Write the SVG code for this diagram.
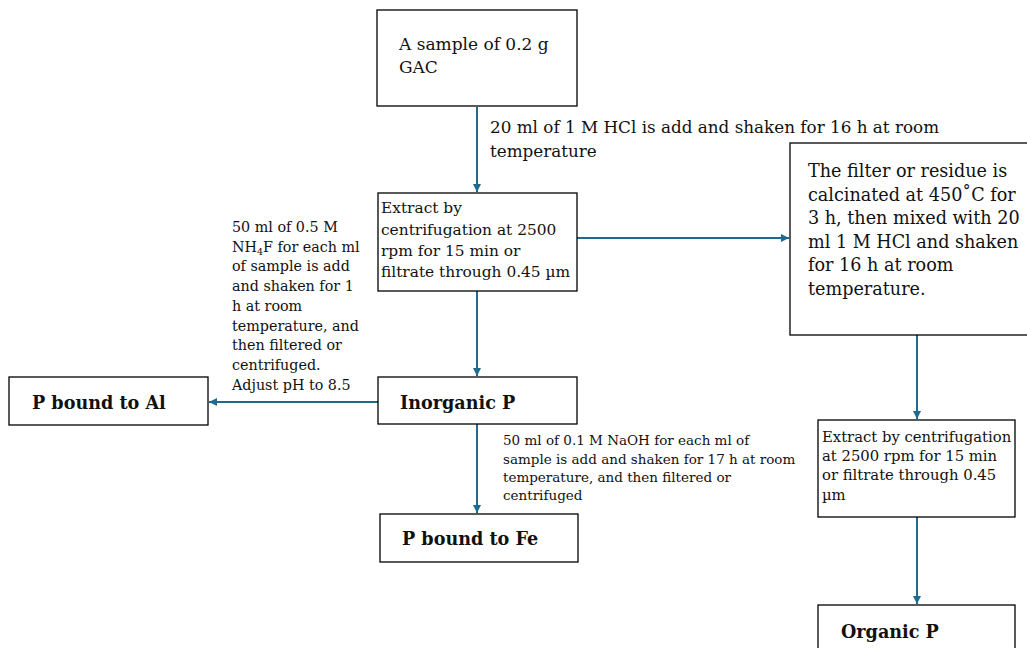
<svg xmlns="http://www.w3.org/2000/svg" width="1027" height="648" viewBox="0 0 1027 648">
<defs>
<style>
.box{fill:#fff;stroke:#000;stroke-width:1.3}
.t{font-family:"DejaVu Serif","Liberation Serif",serif;fill:#111}
.b{font-size:17.6px;font-weight:bold}
.c{stroke:#1f6a8f;stroke-width:2;fill:none;marker-end:url(#ah)}
</style>
<marker id="ah" viewBox="0 0 10 10" refX="10" refY="5" markerWidth="4" markerHeight="4" orient="auto" markerUnits="strokeWidth">
<path d="M0,0 L10,5 L0,10 z" fill="#1f6a8f"/>
</marker>
</defs>
<rect width="1027" height="648" fill="#fff"/>
<g id="connectors">
<line class="c" x1="477" y1="107" x2="477" y2="192"/>
<line class="c" x1="577" y1="238" x2="789" y2="238"/>
<line class="c" x1="477" y1="291" x2="477" y2="376"/>
<line class="c" x1="378" y1="402" x2="209" y2="402"/>
<line class="c" x1="477" y1="424" x2="477" y2="513"/>
<line class="c" x1="917" y1="335" x2="917" y2="419"/>
<line class="c" x1="917" y1="517" x2="917" y2="604"/>
<text class="t" font-size="16.8" x="490" y="133">20 ml of 1 M HCl is add and shaken for 16 h at room</text>
<text class="t" font-size="16.8" x="490" y="157">temperature</text>
<text class="t" font-size="14.3">
<tspan x="232" y="232">50 ml of 0.5 M</tspan>
<tspan x="232" y="252">NH<tspan font-size="9.5" dy="3">4</tspan><tspan dy="-3">F for each ml</tspan></tspan>
<tspan x="232" y="271">of sample is add</tspan>
<tspan x="232" y="291">and shaken for 1</tspan>
<tspan x="232" y="311">h at room</tspan>
<tspan x="232" y="331">temperature, and</tspan>
<tspan x="232" y="350">then filtered or</tspan>
<tspan x="232" y="370">centrifuged.</tspan>
<tspan x="232" y="390">Adjust pH to 8.5</tspan>
</text>
<text class="t" font-size="13.5">
<tspan x="503" y="445">50 ml of 0.1 M NaOH for each ml of</tspan>
<tspan x="503" y="464">sample is add and shaken for 17 h at room</tspan>
<tspan x="503" y="482">temperature, and then filtered or</tspan>
<tspan x="503" y="500">centrifuged</tspan>
</text>
</g>
<g id="sample">
<rect class="box" x="377" y="10" width="200" height="96"/>
<text class="t" font-size="17" x="399" y="50">A sample of 0.2 g</text>
<text class="t" font-size="17" x="399" y="73">GAC</text>
</g>
<g id="extract1">
<rect class="box" x="378" y="193" width="199" height="98"/>
<text class="t" font-size="15.4">
<tspan x="381" y="213">Extract by</tspan>
<tspan x="381" y="235">centrifugation at 2500</tspan>
<tspan x="381" y="256">rpm for 15 min or</tspan>
<tspan x="381" y="277">filtrate through 0.45 µm</tspan>
</text>
</g>
<g id="calcination">
<rect class="box" x="790" y="143" width="240" height="192"/>
<text class="t" font-size="17.6">
<tspan x="808" y="177">The filter or residue is</tspan>
<tspan x="808" y="201">calcinated at 450˚C for</tspan>
<tspan x="808" y="224">3 h, then mixed with 20</tspan>
<tspan x="808" y="248">ml 1 M HCl and shaken</tspan>
<tspan x="808" y="271">for 16 h at room</tspan>
<tspan x="808" y="295">temperature.</tspan>
</text>
</g>
<g id="extract2">
<rect class="box" x="818" y="420" width="197" height="97"/>
<text class="t" font-size="14.8">
<tspan x="822" y="442">Extract by centrifugation</tspan>
<tspan x="822" y="461">at 2500 rpm for 15 min</tspan>
<tspan x="822" y="480">or filtrate through 0.45</tspan>
<tspan x="822" y="500">µm</tspan>
</text>
</g>
<g id="organic">
<rect class="box" x="818" y="605" width="197" height="60"/>
<text class="t b" x="841" y="638">Organic P</text>
</g>
<g id="inorganic">
<rect class="box" x="378" y="377" width="199" height="47"/>
<text class="t b" x="400" y="409">Inorganic P</text>
</g>
<g id="al">
<rect class="box" x="9" y="377" width="199" height="48"/>
<text class="t b" x="32" y="409">P bound to Al</text>
</g>
<g id="fe">
<rect class="box" x="380" y="514" width="198" height="48"/>
<text class="t b" x="402" y="545">P bound to Fe</text>
</g>
</svg>
